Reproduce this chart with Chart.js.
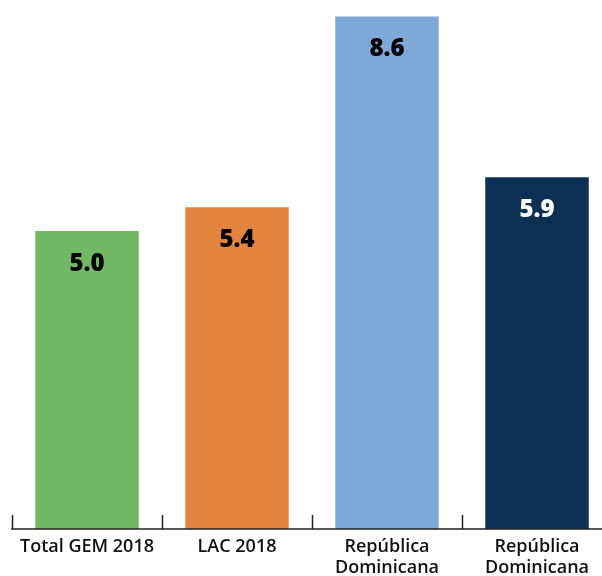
<!DOCTYPE html>
<html>
<head>
<meta charset="utf-8">
<script src="https://cdn.jsdelivr.net/npm/chart.js@4/dist/chart.umd.min.js"></script>
<style>
  html, body { margin: 0; padding: 0; background: #fff; overflow: hidden; }
  #wrap { width: 602px; height: 576px; overflow: hidden; }
</style>
</head>
<body>
<div id="wrap"><canvas id="c" width="620" height="576"></canvas></div>
<script>
// ---- data ----
const categories = ['Total GEM 2018', 'LAC 2018', ['República', 'Dominicana'], ['República', 'Dominicana']];
const values = [5.0, 5.4, 8.6, 5.9];
const barColors = ['#71B865', '#E3853F', '#7DA8D8', '#0C3054'];
const labelColors = ['#000000', '#000000', '#000000', '#ffffff'];

// ---- plugins ----
// value labels inside the top of each bar
const valueLabels = {
  id: 'valueLabels',
  afterDatasetsDraw(chart) {
    const ctx = chart.ctx;
    const meta = chart.getDatasetMeta(0);
    ctx.save();
    ctx.font = '800 24px "Open Sans"';
    ctx.textAlign = 'center';
    ctx.textBaseline = 'middle';
    meta.data.forEach((bar, i) => {
      ctx.fillStyle = labelColors[i];
      ctx.fillText(values[i].toFixed(1), bar.x, bar.y + 33);
    });
    ctx.restore();
  }
};

// short tick marks going up from the axis, on category boundaries
const upTicks = {
  id: 'upTicks',
  afterDraw(chart) {
    const x = chart.scales.x;
    const ctx = chart.ctx;
    const base = chart.chartArea.bottom;
    ctx.save();
    ctx.strokeStyle = '#222';
    ctx.lineWidth = 1.5;
    ctx.beginPath();
    ctx.moveTo(x.left - 1, base);
    ctx.lineTo(x.right, base);
    for (let i = 0; i <= categories.length; i++) {
      const px = Math.round(x.getPixelForValue(i - 0.5)) + 0.5;
      ctx.moveTo(px, base);
      ctx.lineTo(px, base - 14);
    }
    ctx.stroke();
    ctx.restore();
  }
};

new Chart(document.getElementById('c'), {
  type: 'bar',
  data: {
    labels: categories,
    datasets: [{
      data: values,
      backgroundColor: barColors,
      borderWidth: 0,
      barPercentage: 0.69,
      categoryPercentage: 1
    }]
  },
  options: {
    responsive: false,
    animation: false,
    layout: { padding: { left: 12, right: 8, top: 0, bottom: 0 } },
    plugins: { legend: { display: false }, tooltip: { enabled: false } },
    scales: {
      x: {
        grid: { display: false },
        border: { display: false },
        ticks: {
          color: '#111',
          font: { family: '"Open Sans"', size: 18, weight: '600', lineHeight: 1.14 },
          padding: 0,
          maxRotation: 0,
          autoSkip: false
        },
        afterFit(scale) { scale.height = 47; }
      },
      y: {
        display: false,
        min: 0,
        max: 8.876
      }
    }
  },
  plugins: [valueLabels, upTicks]
});
</script>
</body>
</html>
